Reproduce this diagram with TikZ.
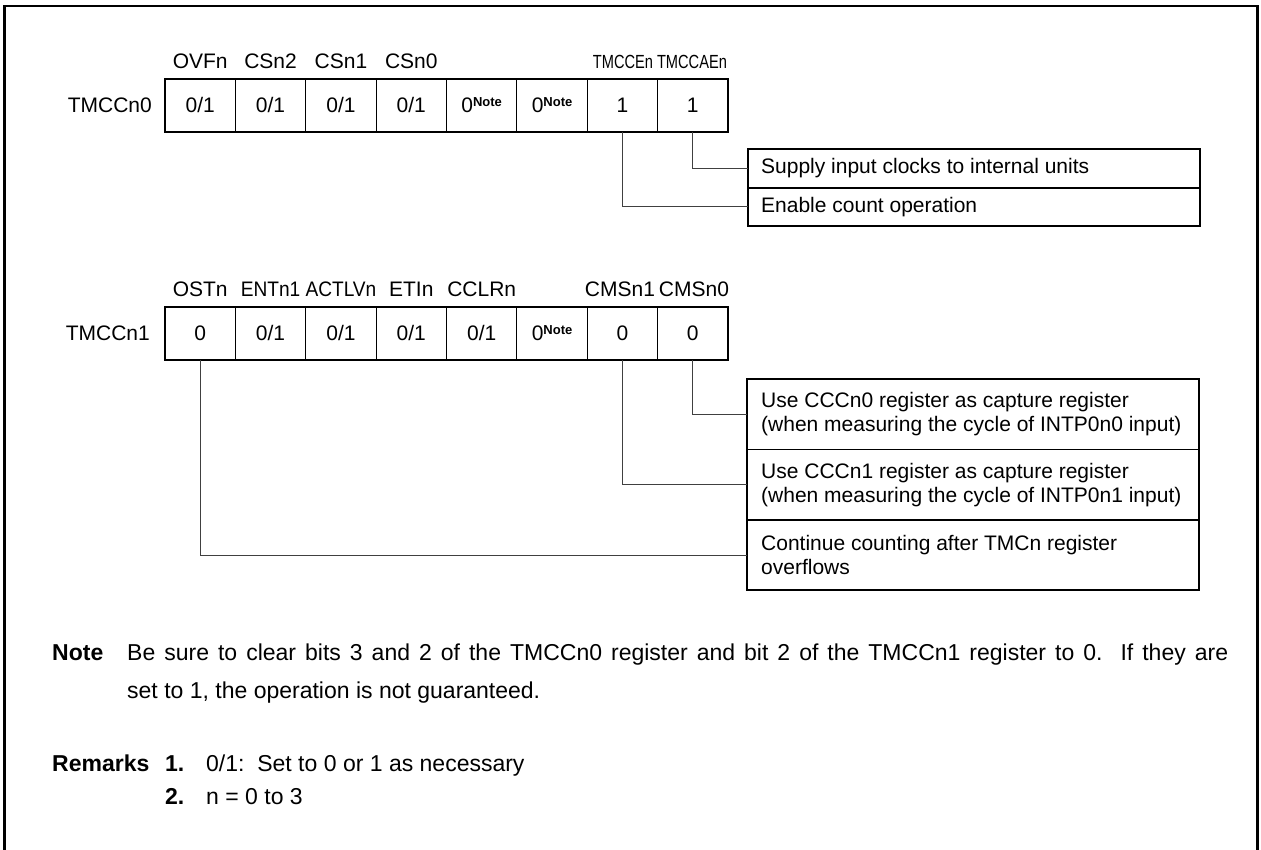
\documentclass[tikz,border=0pt]{standalone}
\usepackage{fontspec}
\setmainfont{Liberation Sans}
\usepackage{graphicx}
\newcommand\zeronote{0\raisebox{6pt}{\fontsize{13}{13}\selectfont\bfseries Note}}
\newcommand\condA[1]{\scalebox{0.77}[1]{\fontsize{19}{22}\selectfont #1}}
\newcommand\condB[1]{\scalebox{0.91}[1]{#1}}
\begin{document}
\begin{tikzpicture}[x=1pt,y=-1pt,
  cell/.style={draw, line width=0.8pt, minimum width=70.375pt, minimum height=52pt, inner sep=0pt, text height=15pt, text depth=0pt, font=\fontsize{21}{24}\selectfont},
  fld/.style={inner sep=0pt, text height=15pt, text depth=0pt, font=\fontsize{21}{24}\selectfont},
  reglbl/.style={inner sep=0pt, anchor=east, text height=15pt, text depth=0pt, font=\fontsize{21}{24}\selectfont},
  descbox/.style={draw, line width=0.8pt, minimum width=451pt, inner sep=0pt, anchor=north west},
  desctext/.style={inner sep=0pt, anchor=west, align=left, font=\fontsize{21}{24}\selectfont},
  conn/.style={line width=1pt, draw=black!75},
  frameline/.style={line width=2.6pt},
  boxline/.style={line width=2pt},
  txt/.style={inner sep=0pt, anchor=base west, font=\fontsize{23}{26}\selectfont},
  btxt/.style={inner sep=0pt, anchor=base west, font=\fontsize{23}{26}\selectfont\bfseries}]
\useasboundingbox (0,0) rectangle (1261,850);
\draw[frameline] (4.3,852) -- (4.3,6) -- (1257.7,6) -- (1257.7,852);

% ---- TMCCn0 ----
\node[reglbl] (reg0) at (152,105.5) {TMCCn0};
\node[cell] (a1) at (200.19,105.5) {0/1};
\node[cell] (a2) at (270.56,105.5) {0/1};
\node[cell] (a3) at (340.94,105.5) {0/1};
\node[cell] (a4) at (411.31,105.5) {0/1};
\node[cell] (a5) at (481.69,105.5) {\zeronote};
\node[cell] (a6) at (552.06,105.5) {\zeronote};
\node[cell] (a7) at (622.44,105.5) {1};
\node[cell] (a8) at (692.81,105.5) {1};
\draw[boxline] (a1.north west) rectangle (a8.south east);
\node[fld] (fa1) at (200.19,61.5) {OVFn};
\node[fld] (fa2) at (270.56,61.5) {CSn2};
\node[fld] (fa3) at (340.94,61.5) {CSn1};
\node[fld] (fa4) at (411.31,61.5) {CSn0};
\node[fld] (fa7) at (623,61.5) {\condA{TMCCEn}};
\node[fld] (fa8) at (692,61.5) {\condA{TMCCAEn}};

\node[descbox, minimum height=37.75pt] (s1) at (748,149) {};
\node[descbox, minimum height=37.75pt] (s2) at (s1.south west) {};
\draw[boxline] (s1.north west) rectangle (s2.south east);
\node[desctext] (s1t) at ([xshift=13pt]s1.west) {Supply input clocks to internal units};
\node[desctext] (s2t) at ([xshift=13pt]s2.west) {Enable count operation};
\draw[conn] (a8.south) |- (s1.west);
\draw[conn] (a7.south) |- (s2.west);

% ---- TMCCn1 ----
\node[reglbl] (reg1) at (150,333.5) {TMCCn1};
\node[cell] (b1) at (200.19,333.5) {0};
\node[cell] (b2) at (270.56,333.5) {0/1};
\node[cell] (b3) at (340.94,333.5) {0/1};
\node[cell] (b4) at (411.31,333.5) {0/1};
\node[cell] (b5) at (481.69,333.5) {0/1};
\node[cell] (b6) at (552.06,333.5) {\zeronote};
\node[cell] (b7) at (622.44,333.5) {0};
\node[cell] (b8) at (692.81,333.5) {0};
\draw[boxline] (b1.north west) rectangle (b8.south east);
\node[fld] (fb1) at (200.19,289) {OSTn};
\node[fld] (fb2) at (270.56,289) {\condB{ENTn1}};
\node[fld] (fb3) at (340.94,289) {\condB{ACTLVn}};
\node[fld] (fb4) at (411.31,289) {ETIn};
\node[fld] (fb5) at (481.69,289) {CCLRn};
\node[fld] (fb7) at (620,289) {CMSn1};
\node[fld] (fb8) at (694,289) {CMSn0};

\node[descbox, minimum height=69.67pt] (t1) at (747,379) {};
\node[descbox, minimum height=69.67pt] (t2) at (t1.south west) {};
\node[descbox, minimum height=69.67pt] (t3) at (t2.south west) {};
\draw[boxline] (t1.north west) rectangle (t3.south east);
\node[desctext] (t1t) at ([xshift=14pt]t1.west) {Use CCCn0 register as capture register\\(when measuring the cycle of INTP0n0 input)};
\node[desctext] (t2t) at ([xshift=14pt]t2.west) {Use CCCn1 register as capture register\\(when measuring the cycle of INTP0n1 input)};
\node[desctext] (t3t) at ([xshift=14pt]t3.west) {Continue counting after TMCn register\\overflows};
\draw[conn] (b8.south) |- (t1.west);
\draw[conn] (b7.south) |- (t2.west);
\draw[conn] (b1.south) |- (t3.west);

% ---- notes ----
\node[btxt] (notelbl) at (52,660) {Note};
\node[txt] (note1) at (127,660) {\makebox[1101pt][s]{Be sure to clear bits 3 and 2 of the TMCCn0 register and bit 2 of the TMCCn1 register to 0.\ \ If they are}};
\node[txt] (note2) at (127,698) {set to 1, the operation is not guaranteed.};
\node[btxt] (remlbl) at (52,771) {Remarks};
\node[btxt] (rem1n) at (165,771) {1.};
\node[txt] (rem1) at (206,771) {0/1:\ \ Set to 0 or 1 as necessary};
\node[btxt] (rem2n) at (165,804) {2.};
\node[txt] (rem2) at (206,804) {n = 0 to 3};
\end{tikzpicture}
\end{document}
